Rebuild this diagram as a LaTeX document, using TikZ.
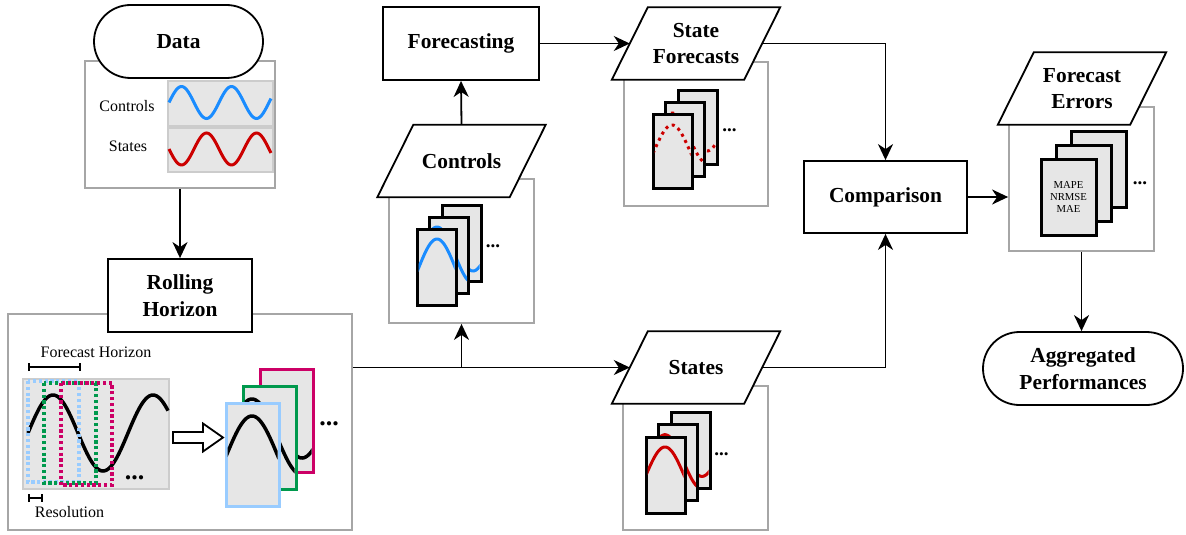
\documentclass[tikz,border=0pt]{standalone}
\usepackage{fontspec}
\setmainfont{Liberation Serif}
\usetikzlibrary{shapes.misc,arrows.meta,calc}
\pgfdeclarelayer{back}
\pgfdeclarelayer{mid}
\pgfsetlayers{back,mid,main}
\definecolor{panelgray}{HTML}{E6E6E6}
\definecolor{panelline}{HTML}{CCCCCC}
\definecolor{boxline}{HTML}{A6A6A6}
\definecolor{cblue}{HTML}{1A8CFF}
\definecolor{cred}{HTML}{CC0000}
\definecolor{fblue}{HTML}{99CCFF}
\definecolor{fgreen}{HTML}{00994D}
\definecolor{fmag}{HTML}{CC0066}
\tikzset{
  title/.style={font=\fontsize{21.4}{26.7}\selectfont\bfseries, align=center},
  procbox/.style={title, draw, line width=1.8pt, fill=white, minimum height=73pt, inner sep=0pt},
  terminal/.style={title, draw, rounded rectangle, line width=1.8pt, fill=white, minimum height=73pt, inner sep=0pt},
  paranode/.style={title, minimum width=132pt, minimum height=72pt, inner sep=0pt},
  graybox/.style={draw=boxline, line width=1.8pt, fill=white, inner sep=0pt},
  panel/.style={draw=panelline, line width=1.8pt, fill=panelgray},
  wave/.style={line width=3pt},
  label16/.style={font=\fontsize{16}{19}\selectfont, inner sep=0pt},
  dotrect/.style={line width=3.2pt, dash pattern=on 3.2pt off 2.6pt},
  framebox/.style={line width=3pt, fill=panelgray},
  barline/.style={line width=1.8pt, {Bar[width=8pt]}-{Bar[width=8pt]}},
  bigdots/.style={font=\fontsize{26}{26}\selectfont\bfseries, inner sep=0pt, anchor=base},
  smalldots/.style={font=\fontsize{19}{19}\selectfont\bfseries, inner sep=0pt, anchor=base},
  arr/.style={line width=1.8pt, -{Stealth[length=16pt,width=15pt,inset=5pt]}},
}
\newcommand\parashape[1]{%
  \begin{pgfonlayer}{mid}
  \filldraw[fill=white, line width=1.8pt, line join=miter]
    ($(#1.south west)+(-18,0)$) -- ($(#1.north west)+(18,0)$) --
    ($(#1.north east)+(18,0)$) -- ($(#1.south east)+(-18,0)$) -- cycle;
  \end{pgfonlayer}}
% #1 left, #2 top, #3 w, #4 h, #5 dx, #6 dy, #7 list k/colour, #8 curve style, #9 curve y(\x)
\newcommand\framestack[9]{%
  \foreach \k/\fc in {#7}{%
    \pgfmathsetmacro\L{#1+\k*#5}%
    \pgfmathsetmacro\T{#2-\k*#6}%
    \pgfmathsetmacro\R{\L+#3}%
    \draw[framebox, draw=\fc] (\L,\T) rectangle ++(#3,#4);
    \begin{scope}
      \clip (\L+1.5,\T+1.5) rectangle ++(#3-3,#4-3);
      \draw[#8] plot[domain=\L:\R, samples=60, variable=\x] (\x,{#9-\k*#6});
    \end{scope}
  }}
\begin{document}
\begin{tikzpicture}[x=1pt,y=-1pt]
\useasboundingbox (0,0) rectangle (1186,535);

% container boxes
\begin{pgfonlayer}{back}
\node[graybox, minimum width=190pt, minimum height=127pt] (databox) at (180,124.5) {};
\node[graybox, minimum width=344pt, minimum height=216pt] (rollbox) at (180,422) {};
\node[graybox, minimum width=145pt, minimum height=144pt] (ctrlbox) at (461.5,251) {};
\node[graybox, minimum width=144pt, minimum height=144pt] (sfbox) at (696,134) {};
\node[graybox, minimum width=145pt, minimum height=144pt] (stbox) at (695.5,458) {};
\node[graybox, minimum width=145pt, minimum height=144pt] (errbox) at (1081.5,179) {};
\end{pgfonlayer}

% main nodes
\node[terminal, minimum width=169pt] (data) at (178.5,41.5) {Data};
\node[procbox, minimum width=144pt] (rolling) at (180,295.5) {Rolling\\Horizon};
\node[procbox, minimum width=156pt] (forecasting) at (461,43.5) {Forecasting};
\node[procbox, minimum width=163pt, minimum height=72pt] (comparison) at (885.5,197) {Comparison};
\node[terminal, minimum width=200pt] (aggregated) at (1083,368.5) {Aggregated\\Performances};
\node[paranode] (controls) at (461.5,161) {Controls};
\node[paranode] (sforecasts) at (696,43.5) {State\\Forecasts};
\node[paranode] (states) at (696,367.5) {States};
\node[paranode] (errors) at (1082,88.5) {Forecast\\Errors};
\parashape{controls}
\parashape{sforecasts}
\parashape{states}
\parashape{errors}

% data panel
\draw[panel] (168,81) rectangle (273,126);
\draw[panel] (168,128) rectangle (273,172);
\draw[cblue, wave] plot[domain=169:271, samples=80, variable=\x] (\x,{102.5-16*sin(7.2*(\x-169))});
\draw[cred, wave] plot[domain=169:271, samples=80, variable=\x] (\x,{149+16*sin(7.2*(\x-169))});
\node[label16] (lctrl) at (127,106) {Controls};
\node[label16] (lstates) at (128,146) {States};

% rolling horizon panel
\draw[panel] (23,379) rectangle (169,489);
\draw[line width=3.5pt] plot[domain=28:168, samples=100, variable=\x] (\x,{433-38*cos(3.6*(\x-53))});
\draw[dotrect, fblue] (28,381) rectangle (79,482);
\draw[dotrect, fgreen] (44,383) rectangle (96,483);
\draw[dotrect, fmag] (61,383) rectangle (112,485);
\node[bigdots] (rdots1) at (134.5,479.5) {...};
\draw[barline] (28,367) -- (81,367);
\node[label16] (fhlabel) at (96,352) {Forecast Horizon};
\draw[barline] (28,498) -- (43,498);
\node[label16] (reslabel) at (69.5,512) {Resolution};
\draw[line width=1.8pt, fill=white, line join=miter] (173,432) -- (203,432) -- (203,423.5) -- (223,437.5) -- (203,451.5) -- (203,443) -- (173,443) -- cycle;
\framestack{226}{403}{53}{103}{17}{17}{2/fmag,1/fgreen,0/fblue}{line width=3.5pt}{454-38*cos(3.6*(\x-252))}
\node[bigdots] (rdots2) at (329,425.5) {...};

% controls stack
\framestack{417}{229}{39}{76}{12.5}{12}{2/black,1/black,0/black}{cblue,line width=3pt}{267-28*cos(5*(\x-437))}
\node[smalldots] (cdots) at (493,247) {...};

% state forecasts stack
\framestack{653}{114}{39}{74}{12.5}{12}{2/black,1/black,0/black}{cred,line width=3pt,dash pattern=on 3pt off 4pt}{150-25*cos(5.142857*(\x-672))}
\node[smalldots] (sfdots) at (729.5,131) {...};

% states stack
\framestack{646}{437}{39}{76}{12.5}{12.3}{2/black,1/black,0/black}{cred,line width=3pt}{474-27*cos(4.864865*(\x-665))}
\node[smalldots] (stdots) at (721.5,455) {...};

% errors stack
\framestack{1041}{159}{55}{76}{15}{14}{2/black,1/black,0/black}{draw=none}{0}
\node[font=\fontsize{10.7}{12.2}\selectfont, align=center, inner sep=0pt] (metrics) at (1068.5,197) {MAPE\\NRMSE\\MAE};
\node[smalldots] (edots) at (1140,184) {...};

% connectors
\coordinate (jn) at (ctrlbox.south |- states.west);
\draw[arr] (databox.south) -- (rolling.north);
\draw[arr] (rollbox.east |- states.west) -- (states.west);
\draw[arr] (jn) -- (ctrlbox.south);
\draw[arr] (controls.north) -- (forecasting.south);
\draw[arr] (forecasting.east) -- (sforecasts.west);
\draw[arr] (sforecasts.east) -| (comparison.north);
\draw[arr] (states.east) -| (comparison.south);
\draw[arr] (comparison.east) -- (errbox.west |- comparison.east);
\draw[arr] (errbox.south) -- (errbox.south |- aggregated.north);
\end{tikzpicture}
\end{document}
